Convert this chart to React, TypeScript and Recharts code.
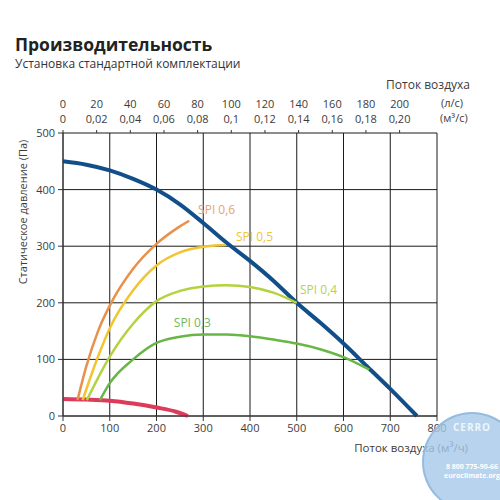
import { LineChart, Line, XAxis, YAxis, CartesianGrid, ReferenceDot } from "recharts";

const FONT = "'Open Sans', sans-serif";
const TEXT = "#3c3c3c";

const flowTicks = [0, 100, 200, 300, 400, 500, 600, 700, 800];
const pressureTicks = [0, 100, 200, 300, 400, 500];
const litreTicks = [0, 20, 40, 60, 80, 100, 120, 140, 160, 180, 200];
const cubicLabels = ["0", "0,02", "0,04", "0,06", "0,08", "0,1", "0,12", "0,14", "0,16", "0,18", "0,20"];

// fan curve (m3/h, Pa)
const fanFlow = [0, 50, 100, 150, 200, 250, 300, 350, 400, 450, 500, 550, 600, 650, 700, 757];
const fanPressure = [450, 444, 434, 419, 400, 374, 341, 306, 274, 239, 200, 165, 128, 88, 48, 0];

// minimum curve
const minFlow = [0, 50, 100, 150, 200, 240, 267];
const minPressure = [30, 29, 27, 22, 15, 8, 0];

const spi06Flow = [31, 50, 75, 100, 150, 200, 250, 270];
const spi06Pressure = [28, 88, 150, 195, 260, 304, 335, 345];

const spi05Flow = [42, 75, 100, 150, 200, 250, 300, 347];
const spi05Pressure = [28, 105, 155, 222, 266, 289, 299, 302];

const spi04Flow = [51, 100, 150, 200, 250, 300, 350, 400, 450, 500];
const spi04Pressure = [28, 105, 163, 203, 221, 229, 231, 228, 218, 200];

const spi03Flow = [79, 100, 150, 200, 250, 300, 350, 400, 450, 500, 550, 600, 655];
const spi03Pressure = [28, 58, 100, 129, 140, 144, 144, 141, 135, 128, 118, 104, 82];

const zip = (xs: number[], ys: number[]) => xs.map((x, i) => ({ x, y: ys[i] }));

// the red curve is tied to the top (l/s) axis so that axis gets drawn; both share 0..800 m3/h
const series = [
  { name: "fan", data: zip(fanFlow, fanPressure), color: "#124f8a", width: 4, axis: 0 as any },
  { name: "min", data: zip(minFlow, minPressure), color: "#dd3a5c", width: 4, axis: "top" as any },
  { name: "spi06", data: zip(spi06Flow, spi06Pressure), color: "#e9904a", width: 2.5, axis: 0 as any },
  { name: "spi05", data: zip(spi05Flow, spi05Pressure), color: "#f2c530", width: 2.5, axis: 0 as any },
  { name: "spi04", data: zip(spi04Flow, spi04Pressure), color: "#b3d23e", width: 2.5, axis: 0 as any },
  { name: "spi03", data: zip(spi03Flow, spi03Pressure), color: "#68b646", width: 2.5, axis: 0 as any },
];

const spiLabels = [
  { text: "SPI 0,6", x: 289, y: 365, color: "#eaa36a" },
  { text: "SPI 0,5", x: 370, y: 317, color: "#efc63a" },
  { text: "SPI 0,4", x: 507, y: 223, color: "#b6d24a" },
  { text: "SPI 0,3", x: 237, y: 165, color: "#72b858" },
];

function TopTick(props: any) {
  const { x, y, payload } = props;
  const i = litreTicks.indexOf(Math.round(payload.value / 3.6));
  return (
    <g>
      <text x={x} y={y - 20} textAnchor="middle" fill={TEXT} fontFamily={FONT} fontSize={11}>{litreTicks[i]}</text>
      <text x={x} y={y - 5} textAnchor="middle" fill={TEXT} fontFamily={FONT} fontSize={11}>{cubicLabels[i]}</text>
    </g>
  );
}

const abs = (left: number, top: number, extra: any = {}) => ({
  position: "absolute" as const, left, top, fontFamily: FONT, color: TEXT, whiteSpace: "nowrap" as const, ...extra,
});

export default function App() {
  return (
    <div style={{ position: "absolute", left: 0, top: 0, width: 500, height: 500, background: "#fff", overflow: "hidden" }}>
      <div style={abs(15, 36, { fontSize: 17.5, fontWeight: 700, color: "#222", lineHeight: "17px" })}>Производительность</div>
      <div style={abs(15, 58, { fontSize: 12, color: "#333", lineHeight: "12px" })}>Установка стандартной комплектации</div>
      <div style={abs(0, 76, { fontSize: 12, width: 470, textAlign: "right" })}>Поток воздуха</div>
      <div style={abs(441, 95, { fontSize: 11 })}>(л/с)</div>
      <div style={abs(440, 110, { fontSize: 11 })}>(м³/с)</div>

      <LineChart width={500} height={500} data={[]} margin={{ top: 0, right: 63, bottom: 0, left: 0 }}>
        <CartesianGrid stroke="#1a1a1a" strokeWidth={1} />
        <XAxis
          type="number" dataKey="x" domain={[0, 800]} ticks={flowTicks} allowDataOverflow
          height={84} tickSize={5} tickMargin={3}
          stroke="#333" tick={{ fontSize: 11, fontFamily: FONT, fill: TEXT }}
        />
        <XAxis
          xAxisId="top" orientation="top" type="number" dataKey="x" domain={[0, 800]} allowDataOverflow
          ticks={litreTicks.map((v) => v * 3.6)} interval={0} height={133} tickSize={3} tickMargin={2}
          axisLine={false} stroke="#333" tick={<TopTick />}
        />
        <YAxis
          type="number" dataKey="y" domain={[0, 500]} ticks={pressureTicks} width={63}
          tickSize={5} tickMargin={3} stroke="#333"
          tick={{ fontSize: 11, fontFamily: FONT, fill: TEXT }}
        />
        {series.map((s) => (
          <Line
            key={s.name} xAxisId={s.axis} data={s.data} dataKey="y" type="monotone" stroke={s.color}
            strokeWidth={s.width} dot={false} activeDot={false} isAnimationActive={false}
          />
        ))}
        {spiLabels.map((l) => (
          <ReferenceDot
            key={l.text} x={l.x} y={l.y} r={0} ifOverflow="visible"
            label={{ value: l.text, position: "right", offset: 0, fill: l.color, fontSize: 12, fontFamily: FONT }}
          />
        ))}
      </LineChart>

      <div style={abs(22, 212, { fontSize: 11, transform: "translate(-50%, -50%) rotate(-90deg)" })}>
        Статическое давление (Па)
      </div>
      <div style={abs(0, 440, { fontSize: 11.5, width: 468, textAlign: "right" })}>Поток воздуха (м³/ч)</div>

      <div style={{
        position: "absolute", left: 422, top: 412, width: 96, height: 96, borderRadius: "50%",
        background: "rgba(165,200,232,0.8)", border: "2px solid rgba(140,182,220,0.8)",
        fontFamily: FONT, color: "#fff", textAlign: "center", lineHeight: "9px",
      }}>
        <div style={{ fontSize: 10, fontWeight: 700, marginTop: 9, letterSpacing: 1, color: "#eef5fb" }}>CERRO</div>
        <div style={{ fontSize: 7, fontWeight: 700, marginTop: 30 }}>8 800 775-90-66</div>
        <div style={{ fontSize: 7, fontWeight: 700 }}>euroclimate.org</div>
      </div>
    </div>
  );
}
